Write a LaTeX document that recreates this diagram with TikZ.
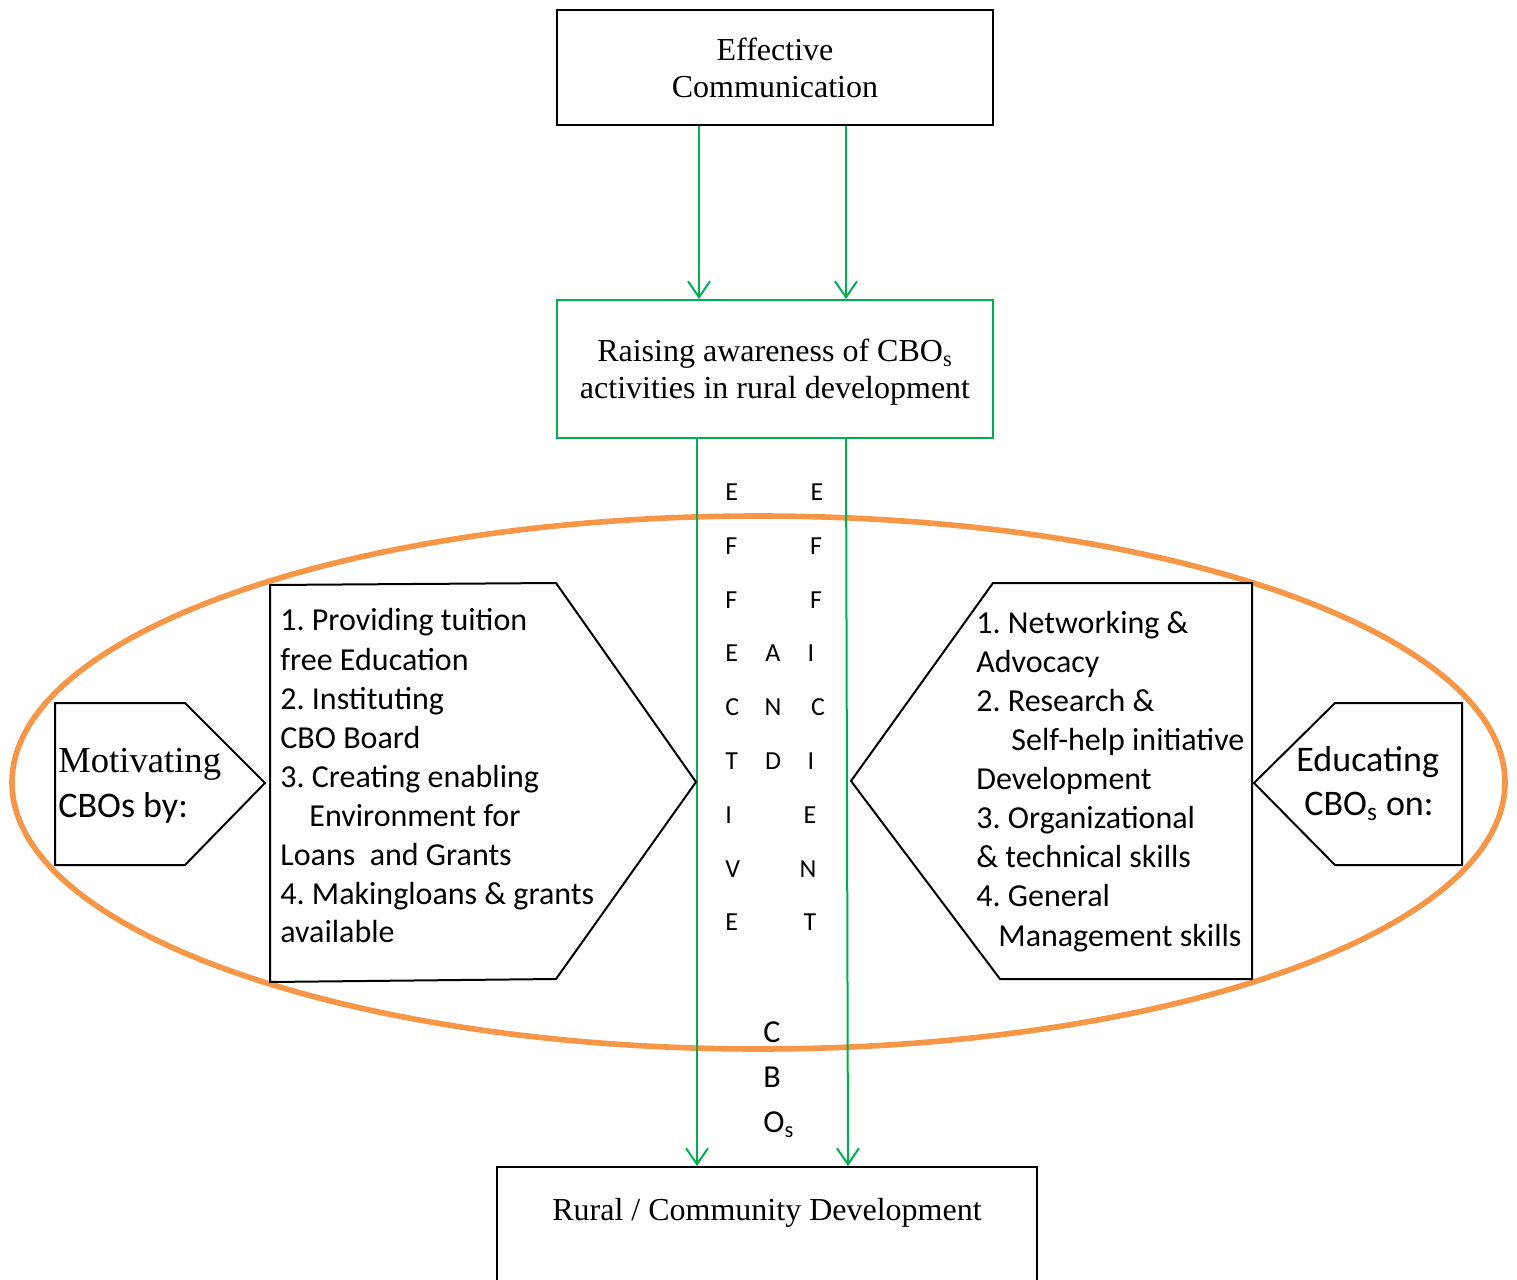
\documentclass[tikz,border=0pt]{standalone}
\usepackage{fontspec}
\setmainfont{Liberation Serif}
\newfontfamily\calfont{Carlito}
\usetikzlibrary{arrows.meta}
\definecolor{grn}{RGB}{0,176,80}
\definecolor{org}{RGB}{247,150,70}
\frenchspacing
\begin{document}
\begin{tikzpicture}[x=0.5pt,y=-0.5pt,
  box/.style={draw=black, line width=1pt, fill=white},
  gbox/.style={draw=grn, line width=1pt, fill=white},
  gline/.style={draw=grn, line width=1pt},
  garrow/.style={gline, -{Straight Barb[length=8pt,width=11pt,line width=1pt]}},
  serif/.style={font=\fontsize{16}{18.5}\selectfont, align=center},
  cal/.style={font=\calfont\fontsize{16}{19.5}\selectfont, inner sep=0pt, anchor=base west},
  bigcal/.style={font=\calfont\fontsize{18}{22}\selectfont, inner sep=0pt, anchor=base west},
  letter/.style={font=\calfont\fontsize{13}{15}\selectfont, inner sep=0pt},
  cbo/.style={font=\calfont\fontsize{16}{19}\selectfont, inner sep=0pt, anchor=base west}
]
\useasboundingbox (0,0) rectangle (1517,1280);
\clip (0,0) rectangle (1517,1280);

% ellipse
\draw[org, line width=2.8pt] (758.5,782.5) ellipse [x radius=746.5, y radius=266.5];

% boxes
\node[box, serif, minimum width=218pt, minimum height=57.5pt, inner sep=0pt] (top) at (775,67.5) {Effective\\Communication};
\node[gbox, serif, minimum width=218pt, minimum height=69pt, inner sep=0pt] (mid) at (775,369) {\rule{0pt}{14pt}Raising awareness of CBO\textsubscript{s}\\activities in rural development};
\node[box, minimum width=270pt, minimum height=70pt, anchor=north, inner sep=0pt] (bot) at (767,1166) {};
\node[font=\fontsize{16}{18.5}\selectfont, inner sep=0pt, anchor=base] (botlabel) at (767,1220) {Rural / Community Development};

% connectors
\draw[garrow] ([xshift=-38pt]top.south) -- ([xshift=-38pt]mid.north);
\draw[garrow] ([xshift=35.5pt]top.south) -- ([xshift=35.5pt]mid.north);
\draw[garrow] ([xshift=-39pt]mid.south) -- ([xshift=-39pt]mid.south |- bot.north);
\draw[garrow] ([xshift=35.5pt]mid.south) -- ([xshift=40.5pt]bot.north);

% left pentagons
\draw[line width=1pt, fill=white] (270,585) -- (556,583) -- (696,782) -- (556,979) -- (270,982) -- cycle;
\draw[line width=1pt, fill=white] (55,703) -- (185,703) -- (265,783) -- (185,865) -- (55,865) -- cycle;
% right pentagons
\draw[line width=1pt, fill=white] (993,583) -- (1252,583) -- (1252,979) -- (1000,979) -- (851,781) -- cycle;
\draw[line width=1pt, fill=white] (1335,703) -- (1462,703) -- (1462,865) -- (1335,865) -- (1254,783) -- cycle;

% left list
\node[cal] (l1) at (280,630) {1. Providing tuition};
\node[cal] (l2) at (280,670) {free Education};
\node[cal] (l3) at (280,709) {2. Instituting};
\node[cal] (l4) at (280,748) {CBO Board};
\node[cal] (l5) at (280,787) {3. Creating enabling};
\node[cal] (l6) at (309,826) {Environment for};
\node[cal] (l7) at (280,865) {Loans\ \ and Grants};
\node[cal] (l8) at (280,904) {4. Makingloans \& grants};
\node[cal] (l9) at (280,942) {available};

% right list
\node[cal] (r1) at (976,633) {1. Networking \&};
\node[cal] (r2) at (976,672) {Advocacy};
\node[cal] (r3) at (976,711) {2. Research \&};
\node[cal] (r4) at (1011,750) {Self-help initiative};
\node[cal] (r5) at (976,789) {Development};
\node[cal] (r6) at (976,828) {3. Organizational};
\node[cal] (r7) at (976,867) {\& technical skills};
\node[cal] (r8) at (976,906) {4. General};
\node[cal] (r9) at (998,946) {Management skills};

% side labels
\node[font=\fontsize{18.3}{22}\selectfont, inner sep=0pt, anchor=base west] (m1) at (58,772) {Motivating};
\node[bigcal] (m2) at (58,817) {CBOs by:};
\node[bigcal] (e1) at (1296,771) {Educating};
\node[bigcal] (e2) at (1304,815) {CBO\textsubscript{s} on:};

% vertical letters
\foreach \ch [count=\i] in {E,F,F,E,C,T,I,V,E}
  \node[letter, anchor=base west] (ve\i) at (725,{500.5+53.8*(\i-1)}) {\ch};
\foreach \ch/\xx [count=\i] in {E/817,F/816,F/816,I/811,C/818,I/811,E/810,N/808,T/810}
  \node[letter, anchor=base] (vf\i) at (\xx,{500.5+53.8*(\i-1)}) {\ch};
\foreach \ch/\k in {A/4,N/5,D/6}
  \node[letter, anchor=base] (va\k) at (773,{500.5+53.8*(\k-1)}) {\ch};

% CBOs
\node[cbo] (c1) at (763,1042) {C};
\node[cbo] (c2) at (763,1087) {B};
\node[cbo] (c3) at (763,1132) {O\textsubscript{s}};
\end{tikzpicture}
\end{document}
